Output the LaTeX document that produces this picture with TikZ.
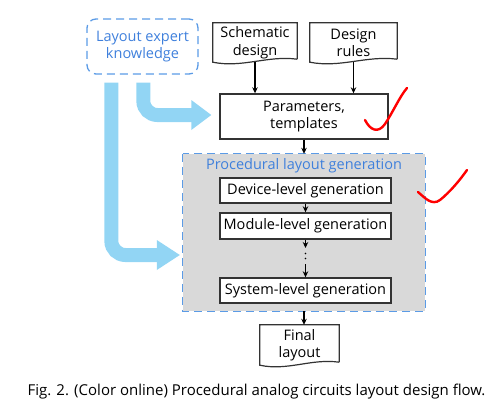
\documentclass[tikz,border=0pt]{standalone}
\usepackage{fontspec}
\setmainfont{Open Sans}
\usetikzlibrary{calc,arrows.meta}
\definecolor{dblue}{HTML}{5B9BE6}
\definecolor{tblue}{HTML}{3F80DC}
\definecolor{lblue}{HTML}{92D5F4}
\definecolor{pgray}{HTML}{D9D9D9}
\definecolor{edge}{HTML}{333333}
\newcommand{\docoutline}[1]{%
  \draw[docline] ($(#1.south east)+(0,-3)$) -- (#1.north east) -- (#1.north west) -- (#1.south west)
    .. controls ($(#1.south west)!0.35!(#1.south east)+(0,6)$) and ($(#1.south west)!0.65!(#1.south east)+(0,-7)$) .. ($(#1.south east)+(0,-3)$);}
\begin{document}
\begin{tikzpicture}[x=1pt,y=-1pt,
  txt/.style={font=\fontsize{14.5}{17.5}\selectfont, align=center, inner sep=0pt},
  box/.style={txt, draw=edge, line width=1.4pt, fill=white},
  docline/.style={draw=edge, line width=1.2pt},
  arr/.style={-{Stealth[length=6pt,width=5.5pt]}, line width=1.4pt},
  dashblue/.style={draw=dblue, line width=1.3pt, dash pattern=on 8pt off 5pt},
  fat/.style={draw=lblue, line width=14pt, rounded corners=14pt},
  tick/.style={draw=red, line width=2.4pt, line cap=round},
]
\useasboundingbox (0,0) rectangle (495,418);

% procedural area
\node[fill=pgray, minimum width=242, minimum height=157, inner sep=0pt] (proc) at (304,232.5) {};
\draw[dashblue] (proc.north west) rectangle (proc.south east);
\node[txt, text=tblue] (ttl) at (304,166) {Procedural layout generation};

% expert knowledge
\node[txt, text=tblue, draw=dblue, line width=1.3pt, dash pattern=on 8pt off 5pt, rounded corners=9pt,
      minimum width=111, minimum height=55] (lek) at (142.5,46.5) {Layout expert\\knowledge};

% documents
\node[txt, minimum width=84, minimum height=39] (sd) at (255,42.5) {Schematic\\design};
\docoutline{sd}
\node[txt, minimum width=87, minimum height=39] (dr) at (353.5,42.5) {Design\\rules};
\docoutline{dr}
\node[txt, minimum width=79, minimum height=40] (fin) at (299.5,345) {Final\\layout};
\docoutline{fin}

% boxes
\node[box, minimum width=168, minimum height=45] (par) at (304,116.5) {Parameters,\\templates};
\node[box, minimum width=171, minimum height=25] (dev) at (305.5,190.5) {Device-level generation};
\node[box, minimum width=171, minimum height=26] (mod) at (305.5,226) {Module-level generation};
\node[box, minimum width=171, minimum height=25] (sys) at (305.5,290.5) {System-level generation};

% blue arrows
\coordinate (s1) at ($(lek.south west)+(57,8)$);
\coordinate (s2) at ($(lek.south west)+(25,8)$);
\coordinate (t1) at ($(par.west)+(-8,-1.5)$);
\coordinate (t2) at ($(proc.west)+(-3,22.5)$);
\draw[fat] (s1) -- (s1 |- t1) -- ($(t1)+(-19,0)$);
\fill[lblue] ($(t1)+(-20,-15)$) -- (t1) -- ($(t1)+(-20,15)$) -- cycle;
\draw[fat] (s2) -- (s2 |- t2) -- ($(t2)+(-22,0)$);
\fill[lblue] ($(t2)+(-23,-15)$) -- (t2) -- ($(t2)+(-23,15)$) -- cycle;

% black arrows
\draw[arr] (sd.south) -- (sd.south |- par.north);
\draw[arr] (dr.south) -- (dr.south |- par.north);
\draw[arr] (par.south) -- (proc.north);
\draw[arr] (dev.south) -- (mod.north);
\coordinate (d1) at (305.5,248);
\coordinate (d2) at (305.5,264);
\draw[arr] (mod.south) -- (d1);
\fill (305.5,253.5) circle (0.9);
\fill (305.5,258.5) circle (0.9);
\draw[arr] (d2) -- (sys.north);
\draw[arr] (proc.south) -- (proc.south |- fin.north);

% caption
\node[font=\fontsize{15}{17}\selectfont, inner sep=0pt] (cap) at (256.5,392)
  {Fig. 2. (Color online) Procedural analog circuits layout design flow.};

% red check marks
\draw[tick] (365,120) .. controls (370,130) and (378,134) .. (385,124) .. controls (393,112) and (400,96) .. (407,88);
\draw[tick] (418,192) .. controls (425,198) and (432,206) .. (440,200) .. controls (450,192) and (460,180) .. (467,170);
\end{tikzpicture}
\end{document}
